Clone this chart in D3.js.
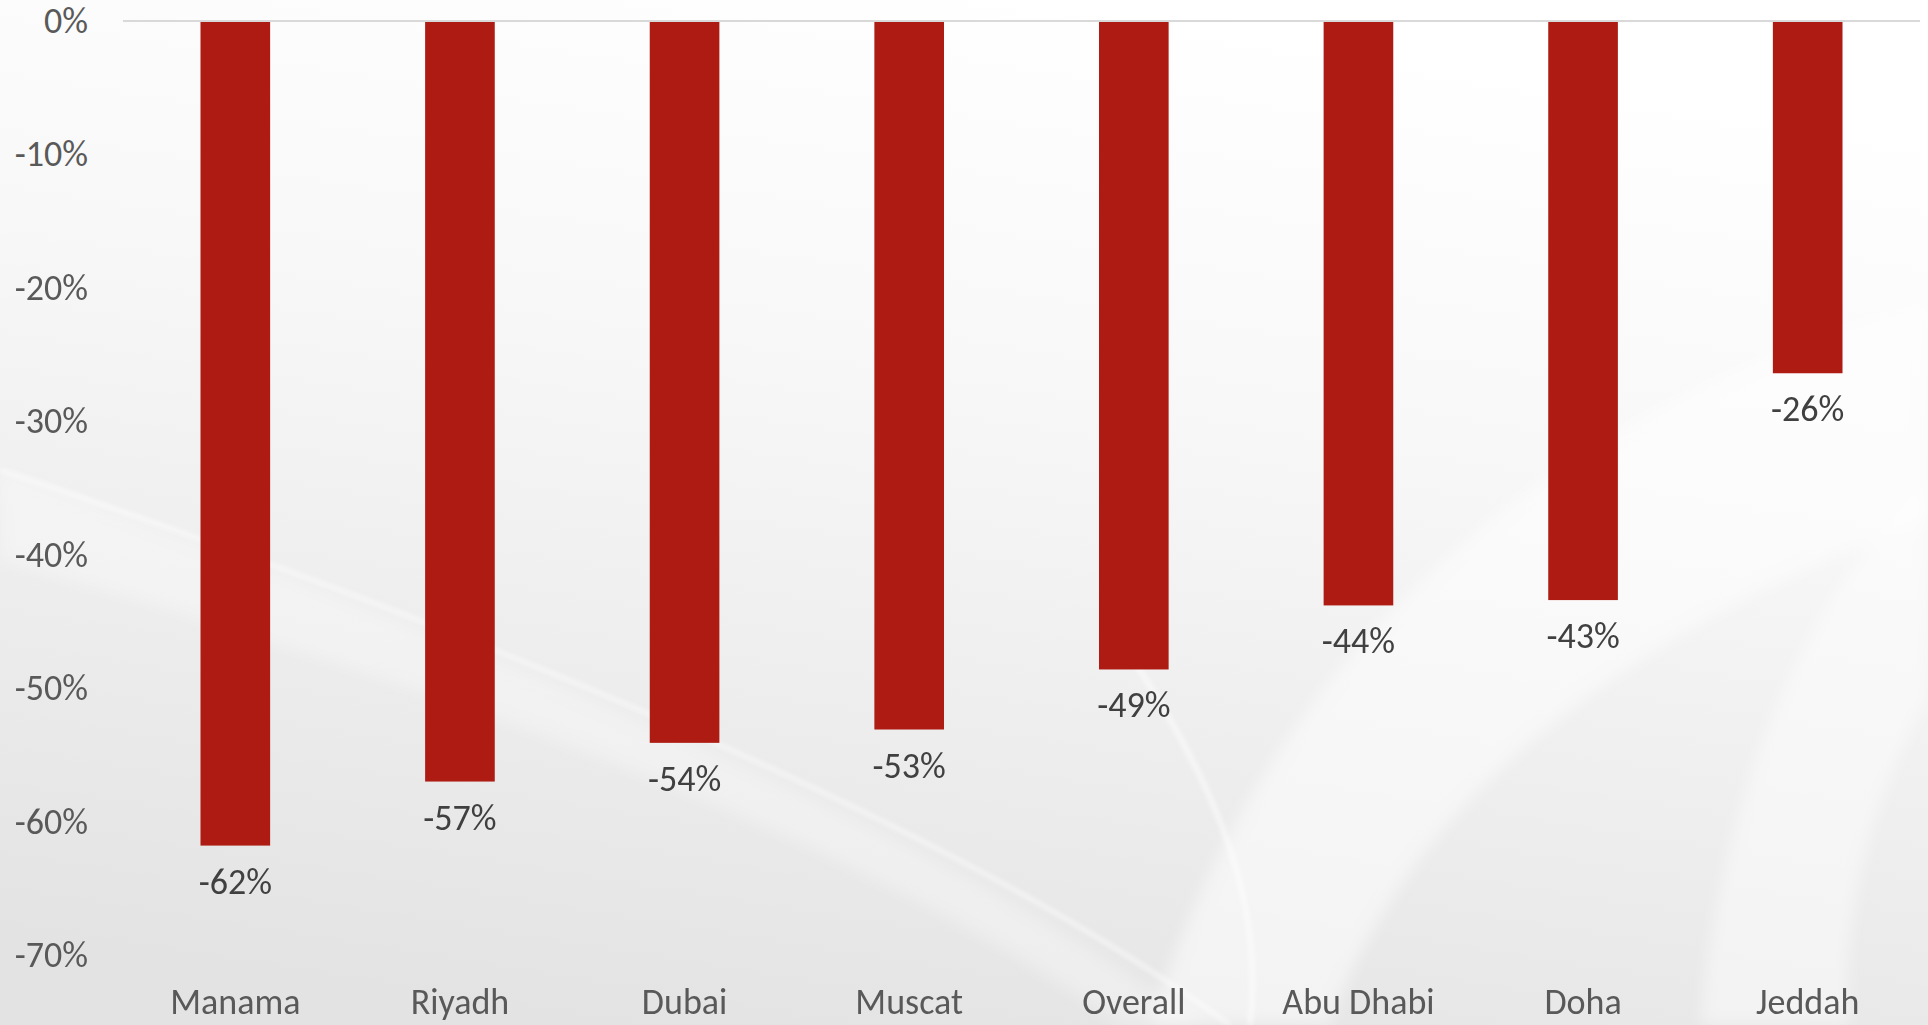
<!DOCTYPE html>
<html>
<head>
<meta charset="utf-8">
<script src="https://cdn.jsdelivr.net/npm/d3@7"></script>
<style>
  html, body { margin: 0; padding: 0; background: #fff; overflow: hidden; }
  svg { display: block; }
  .tick text { font-family: Carlito, Calibri, Lato, sans-serif; }
</style>
</head>
<body>
<div class="vis"></div>
<script>
'use strict';

// chart data
var cities = ['Manama', 'Riyadh', 'Dubai', 'Muscat', 'Overall', 'Abu Dhabi', 'Doha', 'Jeddah'];
var changes = [-0.618, -0.570, -0.541, -0.531, -0.486, -0.438, -0.434, -0.264];
var yTicks = [0, -0.1, -0.2, -0.3, -0.4, -0.5, -0.6, -0.7];

(function () {
	var width = 1928;
	var height = 1025;

	var barColor = '#ad1b12';
	var axisText = '#595959';
	var labelText = '#404040';
	var fontFamily = 'Carlito, Calibri, Lato, sans-serif';
	var fontSize = '36px';

	// plain hyphen for negatives, like the original
	var pct = d3.formatLocale({
		decimal: '.', thousands: ',', grouping: [3], currency: ['$', ''], minus: '-'
	}).format('.0%');

	var x = d3.scaleBand()
		.domain( cities )
		.range( [123, 1920] )
		.paddingInner( 0.69 )
		.paddingOuter( 0.345 );

	var y = d3.scaleLinear()
		.domain( [0, -0.7] )
		.range( [21, 955] );

	var svg = d3.select('.vis')
		.append('svg')
			.attr('width', width)
			.attr('height', height);

	// soft grey background, lighter at the top
	var defs = svg.append('defs');
	var bg = defs.append('linearGradient')
		.attr('id', 'bg')
		.attr('x1', '0.6').attr('y1', '0')
		.attr('x2', '0.3').attr('y2', '1');
	bg.append('stop').attr('offset', '0').attr('stop-color', '#ffffff');
	bg.append('stop').attr('offset', '0.35').attr('stop-color', '#f8f8f8');
	bg.append('stop').attr('offset', '1').attr('stop-color', '#e3e3e3');

	defs.append('filter').attr('id', 'blur')
		.append('feGaussianBlur').attr('stdDeviation', 8);
	defs.append('filter').attr('id', 'soft')
		.append('feGaussianBlur').attr('stdDeviation', 2.5);

	svg.append('rect')
		.attr('width', width)
		.attr('height', height)
		.attr('fill', 'url(#bg)');

	// faint white swooshes
	var swoosh = svg.append('g').attr('filter', 'url(#blur)');
	swoosh.append('path')
		.attr('d', 'M1150,1025 C1250,700 1500,420 1928,300 L1928,520 C1600,640 1400,820 1330,1025 Z')
		.attr('fill', '#ffffff').attr('opacity', 0.5);
	swoosh.append('path')
		.attr('d', 'M0,470 C400,620 900,800 1200,1025 L1120,1025 C850,830 420,680 0,560 Z')
		.attr('fill', '#ffffff').attr('opacity', 0.3);
	swoosh.append('path')
		.attr('d', 'M1700,1025 C1720,800 1800,600 1928,480 L1928,700 C1870,800 1840,920 1850,1025 Z')
		.attr('fill', '#ffffff').attr('opacity', 0.45);
	var streaks = svg.append('g').attr('filter', 'url(#soft)');
	streaks.append('path')
		.attr('d', 'M0,470 C450,620 950,820 1230,1025')
		.attr('fill', 'none').attr('stroke', '#ffffff').attr('stroke-width', 4).attr('opacity', 0.6);
	streaks.append('path')
		.attr('d', 'M1250,1025 C1265,900 1215,780 1120,640')
		.attr('fill', 'none').attr('stroke', '#ffffff').attr('stroke-width', 5).attr('opacity', 0.6);

	// y axis labels
	var yAxis = svg.append('g')
		.attr('transform', 'translate(88,0)')
		.call( d3.axisLeft( y ).tickValues( yTicks ).tickSize( 0 ).tickPadding( 0 ).tickFormat( pct ) );
	yAxis.select('.domain').remove();
	yAxis.selectAll('text')
		.attr('fill', axisText)
		.style('font-size', fontSize);

	// bars
	svg.selectAll('rect.bar')
		.data( changes )
		.enter()
		.append('rect')
			.attr('class', 'bar')
			.attr('x', function(d, i) { return x( cities[i] ); })
			.attr('y', y( 0 ))
			.attr('width', x.bandwidth())
			.attr('height', function(d) { return y( d ) - y( 0 ); })
			.attr('fill', barColor);

	// zero line
	svg.append('line')
		.attr('x1', 123).attr('x2', 1920)
		.attr('y1', y( 0 )).attr('y2', y( 0 ))
		.attr('stroke', '#d9d9d9')
		.attr('stroke-width', 2);

	// value labels under each bar
	svg.selectAll('text.value')
		.data( changes )
		.enter()
		.append('text')
			.attr('class', 'value')
			.attr('x', function(d, i) { return x( cities[i] ) + x.bandwidth() / 2; })
			.attr('y', function(d) { return y( d ) + 48; })
			.attr('text-anchor', 'middle')
			.attr('fill', labelText)
			.style('font-family', fontFamily)
			.style('font-size', fontSize)
			.text(function(d) { return pct( d ); });

	// category labels
	var xAxis = svg.append('g')
		.attr('transform', 'translate(0,1014)')
		.call( d3.axisBottom( x ).tickSize( 0 ).tickPadding( 0 ) );
	xAxis.select('.domain').remove();
	xAxis.selectAll('text')
		.attr('dy', 0)
		.attr('fill', axisText)
		.style('font-size', fontSize);
})();
</script>
</body>
</html>
